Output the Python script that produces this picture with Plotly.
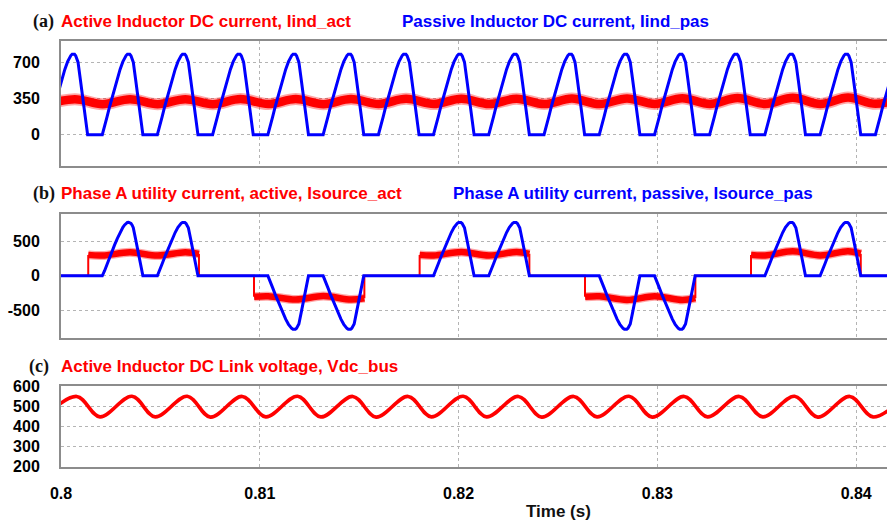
import plotly.graph_objects as go

# ------------------------------------------------------------------
# DATA
# ------------------------------------------------------------------
# (a) passive inductor DC current, Iind_pas : instants of pulse peaks (s) and their sign
pas_peak_t = [0.80062, 0.80340, 0.80617, 0.80895, 0.81173, 0.81451, 0.81729, 0.82006,
              0.82284, 0.82562, 0.82840, 0.83118, 0.83395, 0.83673, 0.83951, 0.84229]
pas_peak_sign = [1, 1, 1, 1, 1, 1, 1, 1, 1, 1, 1, 1, 1, 1, 1, 1]
# shape of one conduction pulse: offset from its peak (ms) and value (A)
pulse_off_ms = [-1.323, -1.207, -1.081, -0.956, -0.840, -0.704, -0.563, -0.428, -0.287,
                -0.200, -0.126, -0.060, 0.0, 0.060, 0.120, 0.180, 0.236, 0.352, 0.468, 0.594, 0.719]
pulse_val = [0, 75, 175, 270, 355, 450, 545, 630, 705,
             740, 764, 777, 780, 776, 762, 736, 700, 535, 365, 180, 0]

# (a) active inductor DC current, Iind_act : ripple extremes (s, A)
iact_t = [0.79931, 0.80070, 0.80209, 0.80347, 0.80486, 0.80625, 0.80764, 0.80903,
          0.81042, 0.81181, 0.81320, 0.81459, 0.81598, 0.81736, 0.81875, 0.82014,
          0.82153, 0.82292, 0.82431, 0.82570, 0.82709, 0.82847, 0.82987, 0.83125,
          0.83264, 0.83403, 0.83542, 0.83681, 0.83820, 0.83959, 0.84098, 0.84236]
iact_v = [295, 342, 295, 342, 295, 343, 295, 344, 296, 344, 295, 345, 296, 346, 296, 347,
          296, 348, 296, 349, 296, 350, 297, 352, 297, 354, 297, 356, 297, 358, 298, 358]

# (b) passive phase-A source current, Isource_pas : pulses that flow in phase A
src_pas_peak_t = [0.80340, 0.80617, 0.81173, 0.81451, 0.82006,
                  0.82284, 0.82840, 0.83118, 0.83673, 0.83951]
src_pas_sign = [1, 1, -1, -1, 1, 1, -1, -1, 1, 1]

# (b) active phase-A source current, Isource_act : 120 degree conduction blocks
src_on_t = [0.80137, 0.80971, 0.81804, 0.82636, 0.83471]
src_off_t = [0.80694, 0.81526, 0.82356, 0.83191, 0.84023]
src_sign = [1, -1, 1, -1, 1]
src_on_v = [305, 305, 305, 305, 305]
src_off_v = [320, 325, 320, 325, 322]

# (c) DC link voltage, Vdc_bus : extremes (s, V)
vdc_t = [0.79918, 0.80079, 0.80196, 0.80357, 0.80474, 0.80635, 0.80752, 0.80912,
         0.81030, 0.81190, 0.81307, 0.81468, 0.81585, 0.81746, 0.81863, 0.82023,
         0.82141, 0.82301, 0.82418, 0.82579, 0.82696, 0.82857, 0.82974, 0.83135,
         0.83252, 0.83412, 0.83530, 0.83690, 0.83807, 0.83968, 0.84085, 0.84246]
vdc_v = [448, 550, 448, 551, 448, 551, 447, 550, 448, 551, 448, 550, 447, 550, 448, 551,
         448, 550, 447, 550, 448, 551, 447, 550, 448, 550, 448, 551, 447, 550, 448, 550]

t_start, t_end = 0.8, 0.84155
x_tickvals = [0.80, 0.81, 0.82, 0.83, 0.84]
x_ticktext = ["0.8", "0.81", "0.82", "0.83", "0.84"]
ya_ticks = [0, 350, 700]
yb_ticks = [-500, 0, 500]
yb_ticktext = ["-500", "0", "500"]
yc_ticks = [200, 300, 400, 500, 600]

titles = {
    "a": ("Active Inductor DC current, Iind_act", "Passive Inductor DC current, Iind_pas"),
    "b": ("Phase A utility current, active, Isource_act", "Phase A utility current, passive, Isource_pas"),
    "c": ("Active Inductor DC Link voltage, Vdc_bus", None),
}

RED = "#ff0000"
BLUE = "#0000ff"

# ------------------------------------------------------------------
# build traces from the arrays
# ------------------------------------------------------------------
def pulses(peaks, signs, lead=None, tail=None):
    xs, ys = [], []
    if lead is not None:
        xs.append(lead); ys.append(0)
    for tp, s in zip(peaks, signs):
        for o, v in zip(pulse_off_ms, pulse_val):
            xs.append(tp + o / 1000.0)
            ys.append(s * v)
    if tail is not None:
        xs.append(tail); ys.append(0)
    return xs, ys

pas_x, pas_y = pulses(pas_peak_t, pas_peak_sign)
srcp_x, srcp_y = pulses(src_pas_peak_t, src_pas_sign, lead=0.7995, tail=0.8425)

# active source current: band segments + thin steps/baseline
band_x, band_y = [], []
step_x, step_y = [0.7995], [0]
for on, off, s, von, voff in zip(src_on_t, src_off_t, src_sign, src_on_v, src_off_v):
    band_x.append(on); band_y.append(s * von)
    for t, v in zip(iact_t, iact_v):
        if on < t < off:
            band_x.append(t); band_y.append(s * v)
    band_x.append(off); band_y.append(s * voff)
    band_x.append(None); band_y.append(None)
    step_x += [on, on, None, off, off]
    step_y += [0, s * von, None, s * voff, 0]
step_x.append(0.8425); step_y.append(0)

fig = go.Figure()

# (a)
fig.add_trace(go.Scatter(x=iact_t, y=iact_v, mode="lines", line=dict(color="rgba(255,0,0,0.35)", width=12, shape="spline"),
                         xaxis="x", yaxis="y", hoverinfo="skip"))
fig.add_trace(go.Scatter(x=iact_t, y=iact_v, mode="lines", line=dict(color=RED, width=8.5, shape="spline"),
                         xaxis="x", yaxis="y"))
fig.add_trace(go.Scatter(x=pas_x, y=pas_y, mode="lines", line=dict(color=BLUE, width=3),
                         xaxis="x", yaxis="y"))
# (b)
fig.add_trace(go.Scatter(x=step_x, y=step_y, mode="lines", line=dict(color=RED, width=2),
                         xaxis="x2", yaxis="y2"))
fig.add_trace(go.Scatter(x=band_x, y=band_y, mode="lines", line=dict(color="rgba(255,0,0,0.35)", width=9, shape="spline"),
                         xaxis="x2", yaxis="y2", hoverinfo="skip"))
fig.add_trace(go.Scatter(x=band_x, y=band_y, mode="lines", line=dict(color=RED, width=6.5, shape="spline"),
                         xaxis="x2", yaxis="y2"))
fig.add_trace(go.Scatter(x=srcp_x, y=srcp_y, mode="lines", line=dict(color=BLUE, width=3),
                         xaxis="x2", yaxis="y2"))
# (c)
fig.add_trace(go.Scatter(x=vdc_t, y=vdc_v, mode="lines", line=dict(color=RED, width=3.6, shape="spline"),
                         xaxis="x3", yaxis="y3"))

# ------------------------------------------------------------------
# layout
# ------------------------------------------------------------------
W, H, L = 887, 527, 61
PW = W - L

def pyp(p):
    return 1 - p / H

def pxp(p):
    return (p - L) / PW

SANS = "Liberation Sans, Arial, Helvetica, sans-serif"
SERIF = "Liberation Serif, Times New Roman, serif"
GRID = "#b4b4b4"
AXC = "#8c8c8c"

xcommon = dict(range=[t_start, t_end], tickvals=x_tickvals, ticktext=x_ticktext,
               showgrid=True, gridcolor=GRID, griddash="dot", gridwidth=1,
               showline=True, linecolor=AXC, linewidth=2, mirror=True,
               zeroline=False, ticks="", fixedrange=True)
ycommon = dict(showgrid=True, gridcolor=GRID, griddash="dot", gridwidth=1,
               showline=True, linecolor=AXC, linewidth=2, zeroline=False, ticks="",
               tickfont=dict(family=SANS, size=16, color="#000000", weight="bold"),
               ticklabelstandoff=16, fixedrange=True)

fig.update_layout(
    width=W, height=H,
    margin=dict(l=L, r=0, t=0, b=0),
    paper_bgcolor="white", plot_bgcolor="white",
    showlegend=False,
    xaxis=dict(xcommon, anchor="y", showticklabels=False),
    xaxis2=dict(xcommon, anchor="y2", showticklabels=False),
    xaxis3=dict(xcommon, anchor="y3", showticklabels=True,
                tickfont=dict(family=SANS, size=16, color="#000000", weight="bold"),
                ticklabelstandoff=11),
    yaxis=dict(ycommon, anchor="x", domain=[pyp(163), pyp(34)], range=[-299, 905], tickvals=ya_ticks),
    yaxis2=dict(ycommon, anchor="x2", domain=[pyp(340.7), pyp(212.7)], range=[-900, 902],
                tickvals=yb_ticks, ticktext=yb_ticktext),
    yaxis3=dict(ycommon, anchor="x3", domain=[pyp(474), pyp(391)], range=[200, 600], tickvals=yc_ticks),
)

ann = []
def label(txt, xr, yc):
    ann.append(dict(text=txt, x=pxp(xr), y=pyp(yc), xref="paper", yref="paper",
                    xanchor="right", yanchor="middle", showarrow=False,
                    font=dict(family=SERIF, size=18, color="#111111", weight="bold")))

def title(txt, xl, yc, color):
    ann.append(dict(text=txt, x=pxp(xl), y=pyp(yc), xref="paper", yref="paper",
                    xanchor="left", yanchor="middle", showarrow=False,
                    font=dict(family=SANS, size=17, color=color, weight="bold")))

label("(a)", 56, 14)
title(titles["a"][0], 59, 14, RED)
title(titles["a"][1], 400, 14, BLUE)
label("(b)", 57, 191.7)
title(titles["b"][0], 59, 191.7, RED)
title(titles["b"][1], 451, 191.7, BLUE)
label("(c)", 51, 370)
title(titles["c"][0], 59, 370, RED)
ann.append(dict(text="Time (s)", x=pxp(558), y=pyp(520), xref="paper", yref="paper",
                xanchor="center", yanchor="middle", showarrow=False,
                font=dict(family=SANS, size=17, color="#111111", weight="bold")))
fig.update_layout(annotations=ann)

fig.write_html("out.html")
